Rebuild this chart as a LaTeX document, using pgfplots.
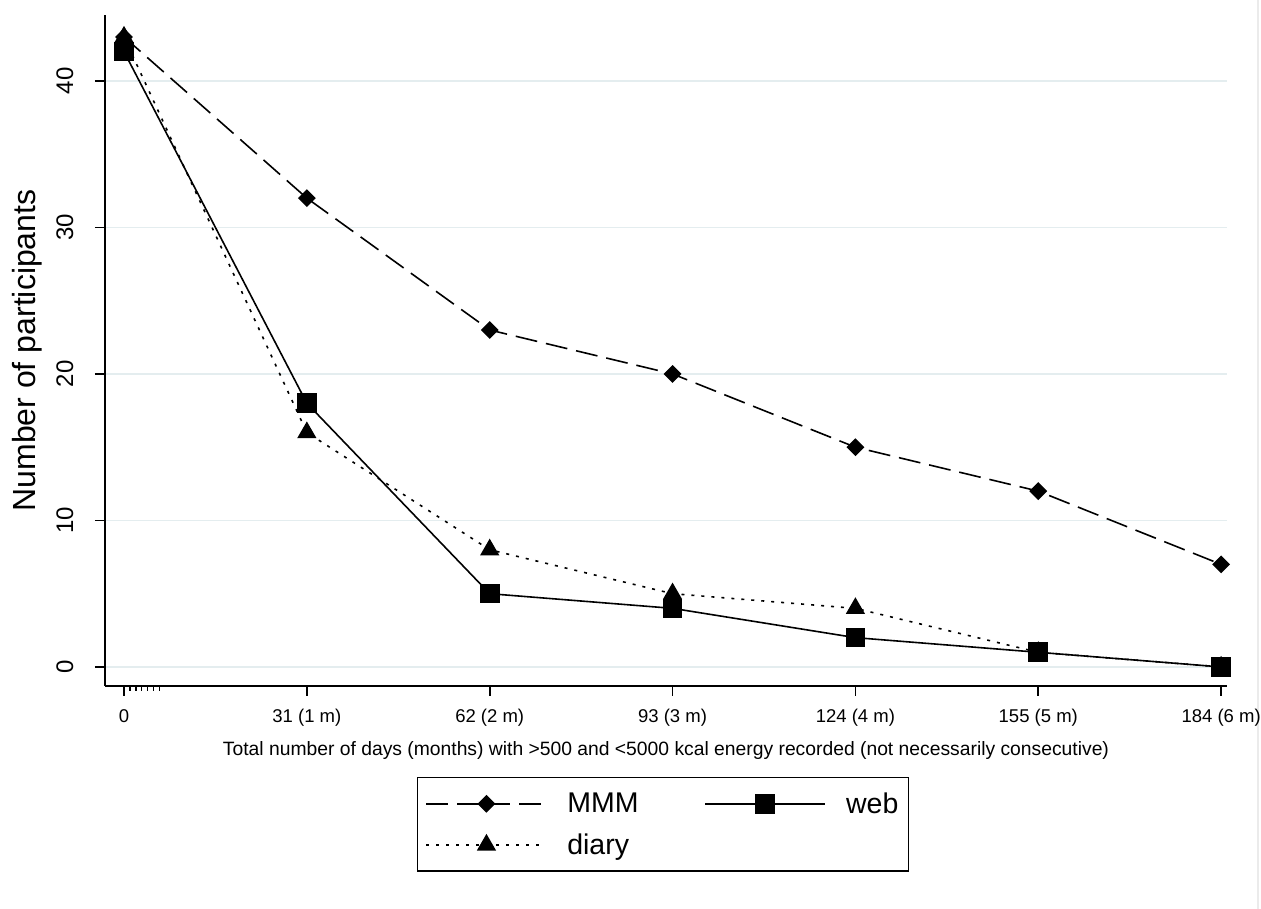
\documentclass[border=0pt]{standalone}
\usepackage{fontspec}
\setmainfont{Liberation Sans}
\usepackage{pgfplots}
\pgfplotsset{compat=1.18}
\definecolor{gridc}{HTML}{E4EDEF}
\begin{document}
\begin{tikzpicture}
\useasboundingbox (0,0) rectangle (1261pt,909pt);
\draw[black!8, line width=2pt] (1258pt,0pt) -- (1258pt,909pt);
\begin{axis}[
  at={(105pt,223pt)}, anchor=south west,
  scale only axis, width=1122pt, height=671pt,
  xmin=-3.22, xmax=187, ymin=-1.3, ymax=44.5,
  axis lines*=left,
  axis line style={line width=1.6pt},
  tick align=outside,
  major tick length=10pt,
  minor tick length=5pt,
  tick style={black, line width=1.6pt},
  xtick={0,31,62,93,124,155,186},
  xticklabels={0,31 (1 m),62 (2 m),93 (3 m),124 (4 m),155 (5 m),184 (6 m)},
  minor xtick={1,2,3,4,5,6},
  ytick={0,10,20,30,40},
  ymajorgrids, grid style={gridc, line width=1.5pt},
  /pgf/number format/assume math mode=true,
  xticklabel shift=10pt,
  yticklabel shift=18pt,
  xticklabel style={font=\fontsize{18.5}{20}\selectfont},
  yticklabel style={rotate=90, anchor=south, font=\fontsize{24}{26}\selectfont},
  xlabel={Total number of days (months) with >500 and <5000 kcal energy recorded (not necessarily consecutive)},
  xlabel style={at={(axis description cs:0.5,-0.0955)}, anchor=center, font=\fontsize{19.3}{21}\selectfont},
  ylabel={Number of participants},
  ylabel style={at={(axis description cs:-0.0695,0.5)}, anchor=center, rotate=0, font=\fontsize{32}{34}\selectfont},
  clip=false,
  legend columns=2,
  legend cell align=left,
  legend image code/.code={
    \draw[mark repeat=2,mark phase=2,#1] plot coordinates {(0pt,0pt) (60pt,0pt) (120pt,0pt)};
  },
  legend style={at={(axis description cs:0.278,-0.1356)}, anchor=north west,
    draw=black, line width=1.5pt, font=\fontsize{28.5}{31}\selectfont,
    inner xsep=8pt, inner ysep=13pt, row sep=15pt,
    /tikz/every odd column/.append style={column sep=18pt},
    /tikz/every even column/.append style={column sep=64pt}},
]
\addplot[black, line width=1.6pt, dash pattern=on 22pt off 9pt,
  mark=square*, mark size=5.5, mark options={solid, rotate=45}]
  coordinates {(0,43) (31,32) (62,23) (93,20) (124,15) (155,12) (186,7)};
\addlegendentry{MMM}
\addplot[black, line width=1.6pt,
  mark=square*, mark size=9, mark options={solid}]
  coordinates {(0,42) (31,18) (62,5) (93,4) (124,2) (155,1) (186,0)};
\addlegendentry{web}
\addplot[black, line width=1.6pt, dash pattern=on 3pt off 7pt,
  mark=triangle*, mark size=9.5, mark options={solid}]
  coordinates {(0,43) (31,16) (62,8) (93,5) (124,4) (155,1) (186,0)};
\addlegendentry{diary}
\end{axis}
\end{tikzpicture}
\end{document}
